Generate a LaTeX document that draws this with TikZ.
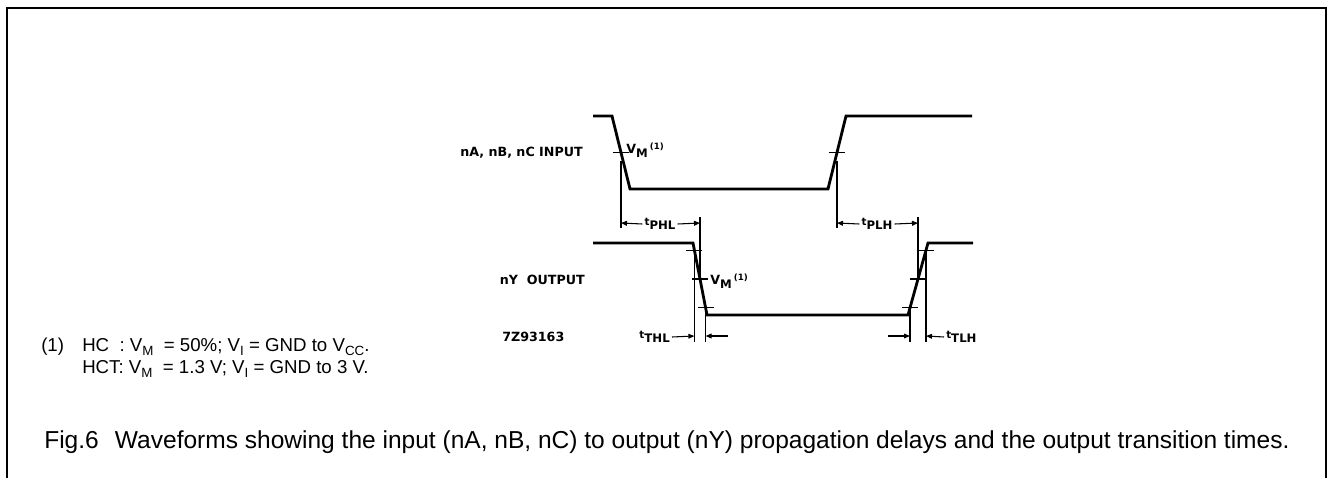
\documentclass[tikz,border=0pt]{standalone}
\usepackage{fontspec}
\setmainfont{Liberation Sans}
\newfontfamily\lblfont{DejaVu Sans}
\usetikzlibrary{arrows.meta}
\newcommand{\lsub}[1]{\raisebox{-2.6pt}{\fontsize{8.8pt}{10pt}\selectfont #1}}
\newcommand{\tsm}{{\fontsize{7.8pt}{9pt}\selectfont t}}
\newcommand{\lsup}[1]{\raisebox{3.4pt}{\fontsize{6.5pt}{7pt}\selectfont #1}}
\newcommand{\fsub}[1]{\raisebox{-3pt}{\fontsize{10pt}{11pt}\selectfont #1}}
\begin{document}
\begin{tikzpicture}[x=0.75pt,y=-0.75pt,
  wave/.style={line width=2.1pt,line join=miter},
  thin/.style={line width=0.8pt},
  arr/.style={line width=0.8pt,-{Triangle[length=4.5pt,width=3.6pt]}},
  lbl/.style={font=\lblfont\bfseries\fontsize{9.5pt}{11pt}\selectfont,inner sep=1.5pt},
  note/.style={font=\fontsize{14pt}{16pt}\selectfont,inner sep=0pt}]
\path[use as bounding box] (0,0) rectangle (1332,478);
% frame
\draw[line width=1.5pt] (7,479) -- (7,8) -- (1326,8) -- (1326,479);

% input waveform
\coordinate (i0) at (593,116);
\coordinate (i1) at (612,116);
\coordinate (i2) at (630,189);
\coordinate (i3) at (828,189);
\coordinate (i4) at (846,116);
\coordinate (i5) at (972,116);
\draw[wave] (i0) -- (i1) -- (i2) -- (i3) -- (i4) -- (i5);
\coordinate (ifm) at (621,152.5);
\coordinate (irm) at (837,152.5);
\draw[thin] ([xshift=-6]ifm) -- ([xshift=6]ifm);
\draw[thin] ([xshift=-6]irm) -- ([xshift=6]irm);
\coordinate (ifb) at (621,228);
\coordinate (irb) at (837,228);
\draw[thin] ([yshift=-6]ifm) -- (ifb);
\draw[thin] ([yshift=-6]irm) -- (irb);

% output waveform
\coordinate (o0) at (593,243);
\coordinate (o1) at (693,243);
\coordinate (o2) at (707,315);
\coordinate (o3) at (908,315);
\coordinate (o4) at (928,243);
\coordinate (o5) at (973,243);
\draw[wave] (o0) -- (o1) -- (o2) -- (o3) -- (o4) -- (o5);
\coordinate (of1) at (694.4,250.2);
\coordinate (of5) at (700,279);
\coordinate (of9) at (705.6,307.8);
\coordinate (or1) at (910,307.8);
\coordinate (or5) at (918,279);
\coordinate (or9) at (926,250.2);
\foreach \p in {of1,of5,of9,or1,or5,or9}
  \draw[thin] ([xshift=-6]\p) -- ([xshift=6]\p);
% delay reference lines
\coordinate (phlt) at (700,217);
\coordinate (plht) at (918,217);
\draw[thin] (phlt) -- (of5);
\draw[thin] (plht) -- (or5);
% transition reference lines
\coordinate (thla) at (694.4,342);
\coordinate (thlb) at (705.6,342);
\coordinate (tlha) at (910,342);
\coordinate (tlhb) at (926,342);
\draw[thin] (of1) -- (thla);
\draw[thin] (of9) -- (thlb);
\draw[thin] (or1) -- (tlha);
\draw[thin] (or9) -- (tlhb);

% tPHL / tPLH
\node[lbl] (tphl) at (660,224) {\tsm\lsub{PHL}};
\draw[arr] (tphl.west) -- (621,223);
\draw[arr] (tphl.east) -- (700,223);
\node[lbl] (tplh) at (877,224) {\tsm\lsub{PLH}};
\draw[arr] (tplh.west) -- (837,223);
\draw[arr] (tplh.east) -- (918,223);

% tTHL / tTLH
\node[lbl,anchor=east] (tthl) at (672,337) {\tsm\lsub{THL}};
\draw[arr] (tthl.east) -- (694.4,336);
\coordinate (thlr) at (728,336);
\draw[arr] (thlr) -- (705.6,336);
\coordinate (tlhl) at (888,336);
\draw[arr] (tlhl) -- (910,336);
\node[lbl,anchor=west] (ttlh) at (944,337) {\tsm\lsub{TLH}};
\draw[arr] (ttlh.west) -- (926,336);

% labels
\node[lbl,anchor=east] (inlbl) at (585,153) {nA, nB, nC INPUT};
\node[lbl,anchor=east] (outlbl) at (587,280) {nY\ \ OUTPUT};
\node[lbl,anchor=west] (code) at (500,337) {7Z93163};
\node[lbl,anchor=west] (vmi) at (624,150) {V\lsub{M}\,\lsup{(1)}};
\node[lbl,anchor=west] (vmo) at (708,281) {V\lsub{M}\,\lsup{(1)}};

% footnote
\node[note,anchor=base west] (fn0) at (41,351) {(1)};
\node[note,anchor=base west] (fn1) at (82,351) {HC\ \ : V\fsub{M}\ \ = 50\%; V\fsub{I} = GND to V\fsub{CC}.};
\node[note,anchor=base west] (fn2) at (82,373) {HCT: V\fsub{M}\ \ = 1.3 V; V\fsub{I} = GND to 3 V.};

% caption
\node[anchor=base west,inner sep=0pt,font=\fontsize{18.4pt}{21pt}\selectfont] (cap) at (44,448) {Fig.6\hspace{7pt} Waveforms showing the input (nA, nB, nC) to output (nY) propagation delays and the output transition times.};
\end{tikzpicture}
\end{document}
